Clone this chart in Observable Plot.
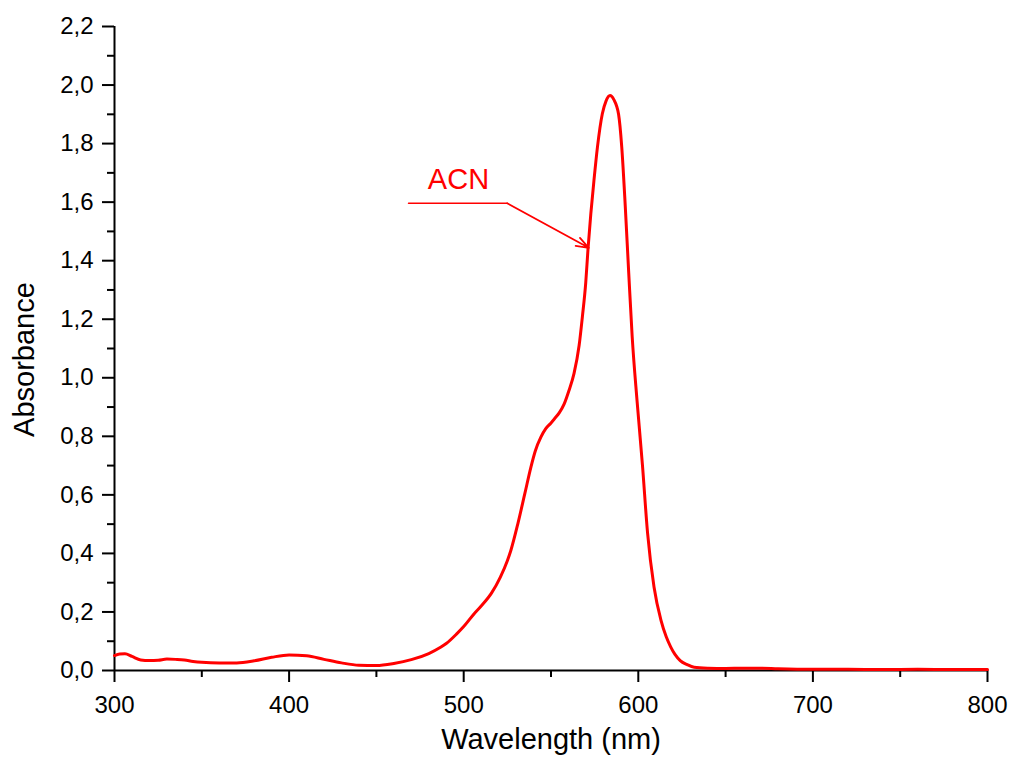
<!DOCTYPE html>
<html>
<head>
<meta charset="utf-8">
<script src="https://cdn.jsdelivr.net/npm/d3@7"></script>
<script src="https://cdn.jsdelivr.net/npm/@observablehq/plot@0.6"></script>
<style>
  html, body { margin: 0; padding: 0; background: #fff; }
  #chart { width: 1012px; height: 769px; }
</style>
</head>
<body>
<div id="chart"></div>
<script>
// Spectrum (wavelength in nm, absorbance)
const wavelength = [300, 303, 306, 310, 315, 320, 325, 330, 335, 340, 345, 350, 360, 370, 380, 390, 400, 410, 420, 430, 440, 450, 460, 470, 480, 487, 490, 496, 500, 506, 510, 516, 521, 525, 527, 531, 535, 538.5, 541, 544.2, 547, 549.9, 552, 554.7, 557.5, 560.2, 563.2, 566.1, 568, 569.9, 571.2, 572.8, 574.6, 576.6, 579.4, 581.5, 583.8, 586, 588.7, 590.5, 592.5, 594.5, 596.5, 599.3, 602.4, 605.3, 609, 613, 616, 618.6, 621, 624, 628, 632, 640, 650, 660, 670, 680, 700, 720, 740, 760, 780, 800];
const absorbance = [0.051, 0.056, 0.057, 0.048, 0.036, 0.034, 0.035, 0.039, 0.038, 0.036, 0.031, 0.028, 0.026, 0.026, 0.033, 0.045, 0.053, 0.050, 0.038, 0.026, 0.018, 0.017, 0.024, 0.037, 0.058, 0.080, 0.092, 0.125, 0.150, 0.194, 0.220, 0.265, 0.319, 0.375, 0.410, 0.501, 0.604, 0.695, 0.750, 0.797, 0.826, 0.845, 0.860, 0.880, 0.910, 0.955, 1.015, 1.110, 1.210, 1.325, 1.440, 1.560, 1.674, 1.788, 1.902, 1.945, 1.964, 1.950, 1.900, 1.790, 1.590, 1.360, 1.140, 0.920, 0.700, 0.470, 0.285, 0.171, 0.115, 0.080, 0.055, 0.034, 0.020, 0.011, 0.008, 0.007, 0.008, 0.008, 0.006, 0.004, 0.004, 0.003, 0.004, 0.003, 0.003];

// Axis ticks
const xMajor = [300, 400, 500, 600, 700, 800];
const xMinor = [350, 450, 550, 650, 750];
const yMajor = [0, 0.2, 0.4, 0.6, 0.8, 1.0, 1.2, 1.4, 1.6, 1.8, 2.0, 2.2];
const yMinor = [0.1, 0.3, 0.5, 0.7, 0.9, 1.1, 1.3, 1.5, 1.7, 1.9, 2.1];

// Texts
const xTitle = ["Wavelength (nm)"];
const yTitle = ["Absorbance"];

// Annotation (data coordinates)
const labelX = [497];
const labelY = [1.677];
const labelText = ["ACN"];
const leaderX = [468.4, 524.9];
const leaderY = [1.596, 1.596];
const arrowX = [524.9, 571.6];
const arrowY = [1.596, 1.444];

const data = wavelength.map((w, i) => ({w, a: absorbance[i]}));
const leader = leaderX.map((x, i) => ({x, y: leaderY[i]}));
const arrowData = [{x1: arrowX[0], y1: arrowY[0], x2: arrowX[1], y2: arrowY[1]}];
const labels = labelText.map((t, i) => ({t, x: labelX[i], y: labelY[i]}));

const fmt = d => d.toFixed(1).replace(".", ",");

const chart = Plot.plot({
  width: 1012,
  height: 769,
  marginLeft: 114,
  marginRight: 25,
  marginTop: 26,
  marginBottom: 99,
  x: {domain: [300, 800]},
  y: {domain: [0, 2.2]},
  style: {fontFamily: "'Liberation Sans', Arial, sans-serif", background: "white", color: "black"},
  marks: [
    Plot.axisX(xMajor, {tickSize: 12, tickPadding: 13, strokeWidth: 2, fontSize: 24, label: null, tickFormat: d => String(d)}),
    Plot.axisX(xMinor, {tickSize: 7, strokeWidth: 2, label: null, tickFormat: () => ""}),
    Plot.axisY(yMajor, {tickSize: 12, tickPadding: 9, strokeWidth: 2, fontSize: 24, label: null, tickFormat: fmt}),
    Plot.axisY(yMinor, {tickSize: 7, strokeWidth: 2, label: null, tickFormat: () => ""}),
    Plot.ruleY([0], {strokeWidth: 2}),
    Plot.ruleX([300], {strokeWidth: 2}),
    Plot.line(data, {x: "w", y: "a", stroke: "#ff0000", strokeWidth: 3, curve: "monotone-x"}),
    Plot.line(leader, {x: "x", y: "y", stroke: "#ff0000", strokeWidth: 1.5}),
    Plot.arrow(arrowData, {x1: "x1", y1: "y1", x2: "x2", y2: "y2", stroke: "#ff0000", strokeWidth: 1.8, headLength: 11, headAngle: 40}),
    Plot.text(labels, {x: "x", y: "y", text: "t", fill: "#ff0000", fontSize: 29, textAnchor: "middle"}),
    Plot.text(xTitle, {frameAnchor: "bottom", text: d => d, dy: 78, fontSize: 29, textAnchor: "middle"}),
    Plot.text(yTitle, {frameAnchor: "left", text: d => d, dx: -90, dy: 11, rotate: -90, fontSize: 29, textAnchor: "middle"})
  ]
});
document.getElementById("chart").appendChild(chart);
</script>
</body>
</html>
